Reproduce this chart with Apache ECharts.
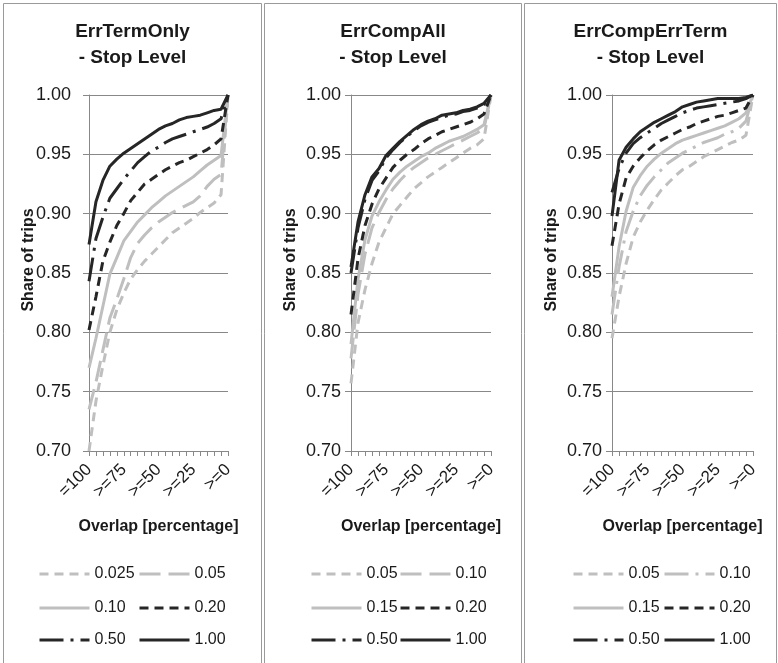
<!DOCTYPE html>
<html><head><meta charset="utf-8">
<script src="https://cdn.jsdelivr.net/npm/echarts@6/dist/echarts.min.js"></script>
<style>html,body{margin:0;padding:0;background:#fff}#c{width:778px;height:663px}</style>
</head><body><div id="c"></div>
<script>
// ---------- data ----------
const categories = ['=100','>=95','>=90','>=85','>=80','>=75','>=70','>=65','>=60','>=55','>=50','>=45','>=40','>=35','>=30','>=25','>=20','>=15','>=10','>=5','>=0'];
const yMin = 0.70, yMax = 1.00, yStep = 0.05;

const panelTitles = ['ErrTermOnly\n- Stop Level', 'ErrCompAll\n- Stop Level', 'ErrCompErrTerm\n- Stop Level'];
const xAxisName = 'Overlap [percentage]';
const yAxisName = 'Share of trips';

const p1Names = ['0.025','0.05','0.10','0.20','0.50','1.00'];
const p2Names = ['0.05','0.10','0.15','0.20','0.50','1.00'];
const p3Names = ['0.05','0.10','0.15','0.20','0.50','1.00'];

// Panel 1: ErrTermOnly
const p1_0025 = [0.700,0.742,0.772,0.800,0.819,0.833,0.845,0.853,0.860,0.866,0.872,0.878,0.884,0.888,0.892,0.896,0.901,0.905,0.909,0.916,1.000];
const p1_005  = [0.735,0.758,0.785,0.812,0.828,0.845,0.863,0.875,0.882,0.888,0.893,0.897,0.901,0.904,0.907,0.910,0.915,0.923,0.929,0.933,1.000];
const p1_010  = [0.770,0.795,0.822,0.849,0.863,0.877,0.885,0.893,0.899,0.905,0.910,0.915,0.919,0.923,0.927,0.931,0.936,0.941,0.945,0.949,1.000];
const p1_020  = [0.802,0.830,0.860,0.876,0.890,0.900,0.911,0.918,0.925,0.929,0.933,0.937,0.940,0.943,0.945,0.948,0.951,0.954,0.958,0.963,1.000];
const p1_050  = [0.843,0.879,0.897,0.913,0.921,0.929,0.936,0.943,0.948,0.953,0.956,0.960,0.963,0.965,0.967,0.969,0.971,0.973,0.976,0.980,1.000];
const p1_100  = [0.874,0.910,0.928,0.940,0.946,0.951,0.955,0.959,0.963,0.967,0.971,0.974,0.976,0.979,0.981,0.982,0.983,0.985,0.987,0.988,1.000];

// Panel 2: ErrCompAll
const p2_005  = [0.757,0.808,0.836,0.858,0.876,0.888,0.900,0.907,0.914,0.921,0.926,0.931,0.935,0.939,0.943,0.947,0.951,0.955,0.958,0.963,1.000];
const p2_010  = [0.778,0.832,0.866,0.888,0.901,0.912,0.921,0.928,0.934,0.939,0.943,0.947,0.950,0.953,0.956,0.959,0.962,0.965,0.968,0.972,1.000];
const p2_015  = [0.790,0.845,0.878,0.898,0.910,0.920,0.929,0.935,0.940,0.944,0.948,0.951,0.955,0.958,0.961,0.963,0.965,0.968,0.971,0.975,1.000];
const p2_020  = [0.815,0.862,0.890,0.908,0.921,0.930,0.939,0.945,0.950,0.954,0.959,0.963,0.966,0.969,0.971,0.973,0.975,0.977,0.980,0.984,1.000];
const p2_050  = [0.850,0.888,0.912,0.928,0.936,0.947,0.954,0.960,0.965,0.970,0.974,0.977,0.979,0.981,0.983,0.984,0.986,0.987,0.989,0.992,1.000];
const p2_100  = [0.855,0.893,0.916,0.931,0.938,0.949,0.955,0.961,0.966,0.971,0.975,0.978,0.980,0.983,0.984,0.985,0.987,0.988,0.990,0.993,1.000];

// Panel 3: ErrCompErrTerm
const p3_005  = [0.795,0.830,0.858,0.880,0.893,0.903,0.912,0.920,0.926,0.932,0.937,0.940,0.944,0.948,0.951,0.954,0.957,0.960,0.962,0.966,1.000];
const p3_010  = [0.815,0.855,0.885,0.902,0.915,0.924,0.931,0.937,0.943,0.947,0.951,0.954,0.957,0.960,0.962,0.964,0.967,0.969,0.972,0.978,1.000];
const p3_015  = [0.830,0.872,0.902,0.922,0.932,0.940,0.946,0.951,0.955,0.959,0.962,0.964,0.966,0.968,0.970,0.972,0.974,0.977,0.980,0.985,1.000];
const p3_020  = [0.873,0.908,0.930,0.940,0.947,0.953,0.958,0.962,0.965,0.968,0.971,0.973,0.976,0.978,0.980,0.982,0.983,0.985,0.987,0.989,1.000];
const p3_050  = [0.918,0.938,0.951,0.959,0.964,0.968,0.972,0.976,0.979,0.982,0.985,0.987,0.989,0.990,0.991,0.992,0.993,0.994,0.995,0.997,1.000];
const p3_100  = [0.898,0.945,0.956,0.963,0.969,0.973,0.977,0.980,0.983,0.986,0.990,0.992,0.994,0.995,0.996,0.997,0.997,0.997,0.997,0.998,1.000];

// ---------- styles ----------
const FONT = 'Liberation Sans';
const GRAY = '#BFBFBF', DARK = '#262626', GRID = '#888888', TXT = '#1a1a1a';
const SHORT = [9, 6], LONG = [21, 8], LDOT = [24, 7, 3, 7];
const styleSets = [
  [[GRAY, SHORT],[GRAY, LONG],[GRAY, 'solid'],[DARK, SHORT],[DARK, LDOT],[DARK, 'solid']],
  [[GRAY, SHORT],[GRAY, LONG],[GRAY, 'solid'],[DARK, SHORT],[DARK, LDOT],[DARK, 'solid']],
  [[GRAY, SHORT],[GRAY, LDOT],[GRAY, 'solid'],[DARK, SHORT],[DARK, LDOT],[DARK, 'solid']]
];
const panelData = [
  [p1_0025, p1_005, p1_010, p1_020, p1_050, p1_100],
  [p2_005, p2_010, p2_015, p2_020, p2_050, p2_100],
  [p3_005, p3_010, p3_015, p3_020, p3_050, p3_100]
];
const panelNames = [p1Names, p2Names, p3Names];

// layout
const panelBox = [[3.5, 258], [264.5, 257], [524.5, 252]];
const gridPos = [[89, 139], [351, 140], [612, 141]];
const yLabelMargin = [18, 10, 10];
const legendCols = [[38, 138], [310, 399], [572, 663]];
const legendRows = [566, 600, 632];

const grids = [], xAxes = [], yAxes = [], series = [], titles = [], legends = [], graphics = [];
for (let p = 0; p < 3; p++) {
  graphics.push({type: 'rect', silent: true, shape: {x: panelBox[p][0], y: 3.5, width: panelBox[p][1], height: 720},
    style: {fill: null, stroke: '#9a9a9a', lineWidth: 1}});
  titles.push({text: panelTitles[p], left: panelBox[p][0] + panelBox[p][1] / 2, top: 19, textAlign: 'center', padding: 0,
    textStyle: {fontFamily: FONT, fontSize: 19, fontWeight: 'bold', color: TXT, lineHeight: 26}});
  grids.push({left: gridPos[p][0], width: gridPos[p][1], top: 95, height: 356, containLabel: false});
  xAxes.push({type: 'category', gridIndex: p, data: categories, boundaryGap: false,
    name: xAxisName, nameLocation: 'middle', nameGap: 68, nameMoveOverlap: false,
    nameTextStyle: {fontFamily: FONT, fontSize: 16, fontWeight: 'bold', color: TXT},
    axisLine: {lineStyle: {color: GRID, width: 1}},
    axisTick: {show: true, interval: 0, length: 5, lineStyle: {color: GRID}},
    axisLabel: {interval: 4, rotate: 45, margin: 16, fontFamily: FONT, fontSize: 17, color: TXT},
    splitLine: {show: false}});
  yAxes.push({type: 'value', gridIndex: p, min: yMin, max: yMax, interval: yStep,
    name: yAxisName, nameLocation: 'middle', nameGap: 52, nameMoveOverlap: false,
    nameTextStyle: {fontFamily: FONT, fontSize: 16, fontWeight: 'bold', color: TXT, padding: [0, 0, 0, 26]},
    axisLine: {show: true, lineStyle: {color: GRID, width: 1}},
    axisTick: {show: true, length: 6, lineStyle: {color: GRID}},
    axisLabel: {margin: yLabelMargin[p], fontFamily: FONT, fontSize: 18, color: TXT, formatter: v => v.toFixed(2)},
    splitLine: {show: true, lineStyle: {color: GRID, width: 1}}});
  for (let s = 0; s < 6; s++) {
    const id = 'p' + (p + 1) + '|' + panelNames[p][s];
    const st = styleSets[p][s];
    series.push({type: 'line', name: id, xAxisIndex: p, yAxisIndex: p, data: panelData[p][s],
      symbol: 'none', showSymbol: false, animation: false,
      lineStyle: {color: st[0], width: 3, type: st[1], cap: 'butt'}, itemStyle: {color: st[0]}});
    const col = s % 2, row = Math.floor(s / 2);
    legends.push({data: [id], left: legendCols[p][col], top: legendRows[row], padding: 0,
      itemWidth: 50, itemHeight: 14, itemGap: 0, selectedMode: false,
      lineStyle: {width: 3},
      itemStyle: {opacity: 0},
      formatter: n => n.split('|')[1],
      textStyle: {fontFamily: FONT, fontSize: 16, color: TXT}});
  }
}

const chart = echarts.init(document.getElementById('c'), null, {renderer: 'canvas'});
chart.setOption({
  animation: false,
  backgroundColor: '#ffffff',
  title: titles, grid: grids, xAxis: xAxes, yAxis: yAxes, series: series, legend: legends, graphic: graphics
});
</script></body></html>
